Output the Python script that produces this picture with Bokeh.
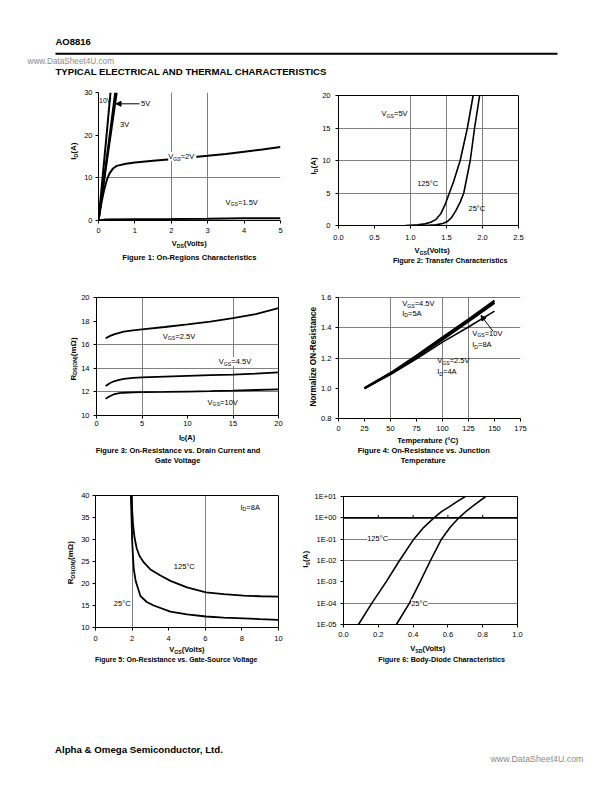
import math
from bokeh.plotting import figure
from bokeh.models import (Range1d, FixedTicker, Label, Arrow, NormalHead, Span,
                          NumeralTickFormatter, CustomJSTickFormatter)
from bokeh.layouts import column, row
from bokeh.embed import file_html
from bokeh.resources import INLINE

FONT = "Liberation Sans"

# ---------------- data ----------------
# Figure 1: On-region characteristics (VDS, ID)
f1_x_10v = [0, 0.1, 0.2, 0.33]
f1_y_10v = [0, 9, 18, 30]
f1_x_5v = [0, 0.1, 0.2, 0.3, 0.46]
f1_y_5v = [0, 6.5, 13, 19.5, 30]
f1_x_3v = [0, 0.1, 0.2, 0.3, 0.4, 0.5]
f1_y_3v = [0, 6.1, 12.1, 18.1, 24.0, 30]
f1_x_2v = [0, 0.05, 0.1, 0.15, 0.2, 0.25, 0.3, 0.4, 0.5, 0.75, 1, 1.5, 2, 2.5, 3, 3.5, 4, 4.5, 5]
f1_y_2v = [0, 2.6, 5.0, 7.0, 8.6, 10.0, 11.0, 12.2, 12.8, 13.3, 13.6, 14.0, 14.35, 14.75, 15.15, 15.6, 16.1, 16.65, 17.25]
f1_x_15v = [0, 0.2, 1, 2, 3, 4, 5]
f1_y_15v = [0, 0.25, 0.3, 0.35, 0.42, 0.5, 0.55]
f1_xticks = [0, 1, 2, 3, 4, 5]
f1_yticks = [0, 10, 20, 30]

# Figure 2: Transfer characteristics (VGS, ID)
f2_x_125 = [0.93, 1.1, 1.2, 1.28, 1.35, 1.42, 1.48, 1.54, 1.6, 1.69, 1.79, 1.87]
f2_y_125 = [0, 0.1, 0.25, 0.5, 0.9, 1.8, 3.2, 5, 6.8, 10, 15, 20]
f2_x_25 = [1.2, 1.35, 1.45, 1.51, 1.57, 1.63, 1.69, 1.74, 1.83, 1.89, 1.96]
f2_y_25 = [0, 0.1, 0.3, 0.6, 1.2, 2.3, 3.6, 5, 10, 15, 20]
f2_xticks = [0, 0.5, 1.0, 1.5, 2.0, 2.5]
f2_yticks = [0, 5, 10, 15, 20]

# Figure 3: RDS(ON) vs ID
f3_x = [1, 1.5, 2, 2.5, 3, 4, 5, 7.5, 10, 12.5, 15, 17.5, 20]
f3_y_25v = [16.55, 16.75, 16.9, 17.0, 17.1, 17.22, 17.3, 17.5, 17.72, 17.95, 18.25, 18.6, 19.1]
f3_y_45v = [12.5, 12.75, 12.92, 13.02, 13.1, 13.18, 13.23, 13.3, 13.36, 13.42, 13.47, 13.55, 13.65]
f3_y_10v = [11.42, 11.65, 11.82, 11.9, 11.93, 11.96, 11.98, 12.0, 12.03, 12.06, 12.1, 12.16, 12.22]
f3_xticks = [0, 5, 10, 15, 20]
f3_yticks = [10, 12, 14, 16, 18, 20]

# Figure 4: normalized on-resistance vs temperature
f4_x = [25, 50, 75, 100, 125, 150]
f4_y_45v = [1.0, 1.1, 1.215, 1.335, 1.455, 1.578]
f4_y_10v = [1.0, 1.098, 1.207, 1.322, 1.443, 1.565]
f4_y_25v = [1.0, 1.09, 1.195, 1.305, 1.405, 1.51]
f4_xticks = [0, 25, 50, 75, 100, 125, 150, 175]
f4_yticks = [0.8, 1.0, 1.2, 1.4, 1.6]

# Figure 5: RDS(ON) vs VGS
f5_x_125 = [1.98, 2.0, 2.05, 2.13, 2.25, 2.4, 2.64, 3.0, 3.55, 4.09, 5, 6.04, 7, 8.09, 9, 10]
f5_y_125 = [40, 37, 33.5, 30.5, 28, 26.3, 24.8, 23.2, 21.8, 20.6, 19.1, 18.0, 17.6, 17.25, 17.1, 17.0]
f5_x_25 = [1.93, 1.97, 2.0, 2.05, 2.09, 2.2, 2.45, 2.8, 3.18, 4.09, 5, 6.04, 7, 8.09, 9, 10]
f5_y_25 = [40, 35, 30, 26, 23.3, 20.5, 17.2, 15.8, 15.0, 13.6, 13.0, 12.5, 12.25, 12.06, 11.9, 11.75]
f5_xticks = [0, 2, 4, 6, 8, 10]
f5_yticks = [10, 15, 20, 25, 30, 35, 40]

# Figure 6: body diode (VSD, IS)
f6_x_125 = [0.086, 0.163, 0.245, 0.322, 0.404, 0.46, 0.52, 0.565, 0.605, 0.65, 0.70]
f6_y_125 = [1e-5, 1e-4, 1e-3, 1e-2, 1e-1, 0.35, 1, 2, 3.2, 5.6, 10]
f6_x_25 = [0.304, 0.379, 0.44, 0.5, 0.563, 0.612, 0.663, 0.71, 0.76, 0.817]
f6_y_25 = [1e-5, 1e-4, 1e-3, 1e-2, 1e-1, 0.35, 1, 2.2, 4.5, 10]
f6_xticks = [0, 0.2, 0.4, 0.6, 0.8, 1.0]
f6_yticks = [1e-5, 1e-4, 1e-3, 1e-2, 1e-1, 1, 10]
f6_midticks = [0.2, 0.4, 0.6, 0.8]

# ---------------- layout geometry (page px, origin top-left of page) ----------------
# L,T,R,B = plot frame; fx,fy,fw,fh = chart canvas; cell = (x0, y0, x1, y1)
CH = {
    1: dict(L=98, T=92, R=280, B=220, fx=80, fy=88, fw=220, fh=150, cell=(0, 88, 300, 272), xr=(0, 5), yr=(0, 30)),
    2: dict(L=338, T=95, R=518, B=225, fx=318, fy=88, fw=294, fh=157, cell=(300, 88, 612, 272), xr=(0, 2.5), yr=(0, 20)),
    3: dict(L=95, T=297, R=278, B=415, fx=78, fy=272, fw=222, fh=159, cell=(0, 272, 300, 476), xr=(0, 20), yr=(10, 20)),
    4: dict(L=338, T=297, R=520, B=418, fx=318, fy=272, fw=294, fh=163, cell=(300, 272, 612, 476), xr=(0, 175), yr=(0.8, 1.6)),
    5: dict(L=95, T=495, R=278, B=627, fx=78, fy=476, fw=222, fh=168, cell=(0, 476, 300, 672), xr=(0, 10), yr=(10, 40)),
    6: dict(L=343, T=496, R=517, B=624, fx=310, fy=476, fw=302, fh=167, cell=(300, 476, 612, 672), xr=(0, 1), yr=(1e-5, 10), log=True),
}

REG = {' ': 278, '(': 333, ')': 333, '=': 584, '-': 333, '.': 278, ':': 278, ',': 278,
       '\u00b0': 400, '\u03a9': 768, '&': 667,
       'A': 667, 'B': 667, 'C': 722, 'D': 722, 'E': 667, 'F': 611, 'G': 778, 'H': 722, 'I': 278,
       'J': 500, 'L': 556, 'M': 833, 'N': 722, 'O': 778, 'P': 667, 'R': 722, 'S': 667, 'T': 611,
       'U': 722, 'V': 667, 'W': 944, 'Y': 667,
       'a': 556, 'b': 556, 'c': 500, 'd': 556, 'e': 556, 'f': 278, 'g': 556, 'h': 556, 'i': 222,
       'k': 500, 'l': 222, 'm': 833, 'n': 556, 'o': 556, 'p': 556, 'r': 333, 's': 500, 't': 278,
       'u': 556, 'v': 500, 'w': 722, 'y': 500, 'z': 500}
BOLD = dict(REG)
BOLD.update({':': 333, 'A': 722, 'c': 556, 'd': 611, 'g': 611, 'h': 611, 'i': 278, 'l': 278,
             'm': 889, 'n': 611, 'o': 611, 'p': 611, 'r': 389, 's': 556, 't': 333, 'u': 611,
             'v': 556, 'y': 556, 'f': 333, 'k': 556, 'w': 778, 'b': 611})


def tw(s, size, bold):
    t = BOLD if bold else REG
    return sum(t.get(ch, 556) for ch in s) / 1000.0 * size


def to_data(c, px, py):
    x0, x1 = c["xr"]
    y0, y1 = c["yr"]
    x = x0 + (px - c["L"]) / (c["R"] - c["L"]) * (x1 - x0)
    f = (c["B"] - py) / (c["B"] - c["T"])
    if c.get("log"):
        y = 10 ** (math.log10(y0) + f * (math.log10(y1) - math.log10(y0)))
    else:
        y = y0 + f * (y1 - y0)
    return x, y


def rich(p, c, px, py, segs, align="left", vertical=False, bg=None, color="black"):
    widths = [tw(t, s, b) for t, s, b, _ in segs]
    total = sum(widths)
    d = 0.0 if align == "left" else -total / 2.0
    ax, ay = to_data(c, px, py)
    for (t, s, b, sh), w in zip(segs, widths):
        if vertical:
            xo, yo = sh, d
        else:
            xo, yo = d, -sh
        lab = Label(x=ax, y=ay, x_offset=xo, y_offset=yo, text=t, text_font=FONT,
                    text_font_size=f"{s}px", text_font_style="bold" if b else "normal",
                    text_align="left", text_baseline="middle",
                    angle=math.pi / 2 if vertical else 0, text_color=color)
        if bg:
            lab.background_fill_color = bg
        p.add_layout(lab)
        d += w


def sub(main, subtxt, rest, size=7.5, bold=False, ssize=5.2, shift=2):
    return [(main, size, bold, 0), (subtxt, ssize, bold, shift), (rest, size, bold, 0)]


def txt(s, size=7.5, bold=False):
    return [(s, size, bold, 0)]


def blank(x0, y0, x1, y1):
    spec = dict(L=x0, T=y0, R=x1, B=y1, xr=(x0, x1), yr=(y1, y0))
    p = figure(width=x1 - x0, height=y1 - y0, x_range=Range1d(x0, x1),
               y_range=Range1d(y1, y0), output_backend="svg", toolbar_location=None,
               min_border=0, x_axis_location=None, y_axis_location=None)
    p.outline_line_color = None
    p.grid.visible = False
    p.background_fill_color = "white"
    p.border_fill_color = "white"
    return p, spec


def make_chart(c, xt, yt, xfmt=None, yfmt=None, xgrid=(), ygrid=(), outline=True, xst=4, yst=4):
    p = figure(width=c["fw"], height=c["fh"], x_range=Range1d(*c["xr"]), y_range=Range1d(*c["yr"]),
               y_axis_type="log" if c.get("log") else "linear",
               output_backend="svg", toolbar_location=None,
               min_border_left=c["L"] - c["fx"], min_border_right=c["fx"] + c["fw"] - c["R"],
               min_border_top=c["T"] - c["fy"], min_border_bottom=c["fy"] + c["fh"] - c["B"])
    p.outline_line_color = "black" if outline else None
    p.background_fill_color = "white"
    p.border_fill_color = "white"
    for ax, ticks, fmt, st in ((p.xaxis[0], xt, xfmt, xst), (p.yaxis[0], yt, yfmt, yst)):
        ax.ticker = FixedTicker(ticks=ticks)
        if fmt is not None:
            ax.formatter = fmt
        ax.major_label_text_font = FONT
        ax.major_label_text_font_size = "7.5px"
        ax.major_label_text_color = "black"
        ax.major_label_standoff = st
        ax.axis_line_color = "black"
        ax.major_tick_line_color = "black"
        ax.major_tick_in = 0
        ax.major_tick_out = 3
        ax.minor_tick_line_color = None
    p.xgrid[0].ticker = FixedTicker(ticks=list(xgrid))
    p.ygrid[0].ticker = FixedTicker(ticks=list(ygrid))
    for g in (p.xgrid[0], p.ygrid[0]):
        g.grid_line_color = "#808080"
        g.grid_line_width = 1
    cx0, cy0, cx1, cy1 = c["cell"]
    left = blank(cx0, c["fy"], c["fx"], c["fy"] + c["fh"])
    bottom = blank(cx0, c["fy"] + c["fh"], cx1, cy1)
    cell = column(row(left[0], p), bottom[0])
    return p, left, bottom, cell


def arrow(p, c, a, b):
    xs, ys = to_data(c, *a)
    xe, ye = to_data(c, *b)
    p.add_layout(Arrow(end=NormalHead(size=5, fill_color="black", line_color="black"),
                       x_start=xs, y_start=ys, x_end=xe, y_end=ye,
                       line_color="black", line_width=1))


# ---------------- Figure 1 ----------------
c1 = CH[1]
p1, l1, b1, cell1 = make_chart(c1, f1_xticks, f1_yticks, xgrid=[2, 3], ygrid=[10], outline=False, xst=4, yst=3)
for xs, ys in ((f1_x_10v, f1_y_10v), (f1_x_5v, f1_y_5v), (f1_x_3v, f1_y_3v),
               (f1_x_2v, f1_y_2v), (f1_x_15v, f1_y_15v)):
    p1.line(xs, ys, line_color="black", line_width=2)
rich(p1, c1, 98.6, 100, txt("10V", 6.8))
rich(p1, c1, 140.5, 103, txt("5V"))
arrow(p1, c1, (139, 103.3), (115.5, 103.3))
rich(p1, c1, 119.5, 124.3, txt("3V"))
rich(p1, c1, 167.7, 156, sub("V", "GS", " =2V"), bg="white")
rich(p1, c1, 225, 201.7, sub("V", "GS", " =1.5V"))
rich(b1[0], b1[1], 189, 243.3, sub("V", "DS", "(Volts)", bold=True), align="center")
rich(l1[0], l1[1], 73, 156.7, sub("I", "D", "(A)", size=8, bold=True), align="center", vertical=True)
rich(b1[0], b1[1], 189, 256.7, txt("Figure 1: On-Regions Characteristics", 7.6, True), align="center")

# ---------------- Figure 2 ----------------
c2 = CH[2]
p2, l2, b2, cell2 = make_chart(c2, f2_xticks, f2_yticks, xfmt=NumeralTickFormatter(format="0.0"),
                               xgrid=[1.0, 1.5, 2.0], ygrid=[5, 10, 15], xst=6, yst=5)
p2.line(f2_x_125, f2_y_125, line_color="black", line_width=1.6)
p2.line(f2_x_25, f2_y_25, line_color="black", line_width=1.6)
rich(p2, c2, 381, 113, sub("V", "GS", "=5V"))
rich(p2, c2, 416.7, 182.7, txt("125\u00b0C"))
rich(p2, c2, 468, 208, txt("25\u00b0C"))
rich(b2[0], b2[1], 432, 250, sub("V", "GS", "(Volts)", bold=True), align="center")
rich(l2[0], l2[1], 313, 173, sub("I", "D", "(A)", size=8, bold=True), align="center", vertical=True)
rich(b2[0], b2[1], 450, 260, txt("Figure 2: Transfer Characteristics", 7.2, True), align="center")

# ---------------- Figure 3 ----------------
c3 = CH[3]
p3, l3, b3, cell3 = make_chart(c3, f3_xticks, f3_yticks, xgrid=[5, 15], ygrid=[12, 14, 16], xst=2, yst=4)
for ys in (f3_y_25v, f3_y_45v, f3_y_10v):
    p3.line(f3_x, ys, line_color="black", line_width=1.8)
rich(p3, c3, 161.7, 335.7, sub("V", "GS", " =2.5V"))
rich(p3, c3, 218, 361, sub("V", "GS", " =4.5V"), bg="white")
rich(p3, c3, 206.7, 401.7, sub("V", "GS", " =10V"))
rich(b3[0], b3[1], 186.5, 436.7, sub("I", "D", "(A)", bold=True), align="center")
rich(l3[0], l3[1], 72.7, 355, sub("R", "DS(ON)", "(m\u03a9)", size=8, bold=True), align="center", vertical=True)
rich(b3[0], b3[1], 177.5, 450, txt("Figure 3: On-Resistance vs. Drain Current and", 7.5, True), align="center")
rich(b3[0], b3[1], 177.5, 459.5, txt("Gate Voltage", 7.5, True), align="center")

# ---------------- Figure 4 ----------------
c4 = CH[4]
p4, l4, b4, cell4 = make_chart(c4, f4_xticks, f4_yticks, yfmt=NumeralTickFormatter(format="0.0"),
                               xgrid=[50, 100, 125], ygrid=[1.2, 1.4], outline=False, xst=4, yst=4)
p4.add_layout(Span(location=c4["yr"][1], dimension="width", line_color="black", line_width=1))
p4.line(f4_x, f4_y_45v, line_color="black", line_width=2.4)
p4.line(f4_x, f4_y_10v, line_color="black", line_width=2.4)
p4.line(f4_x, f4_y_25v, line_color="black", line_width=1.5)
rich(p4, c4, 401.7, 303.3, sub("V", "GS", "=4.5V"))
rich(p4, c4, 401.7, 312.7, sub("I", "D", "=5A"))
rich(p4, c4, 471.7, 332.7, sub("V", "GS", "=10V"))
rich(p4, c4, 471.7, 344.3, sub("I", "D", "=8A"))
arrow(p4, c4, (492.7, 331), (480.5, 315))
rich(p4, c4, 436.7, 360, sub("V", "GS", "=2.5V"))
rich(p4, c4, 436.7, 371, sub("I", "D", "=4A"))
rich(b4[0], b4[1], 427.5, 440, txt("Temperature (\u00b0C)", 7.6, True), align="center")
rich(l4[0], l4[1], 313, 351.7, txt("Normalize ON-Resistance", 8.2, True), align="center", vertical=True)
rich(b4[0], b4[1], 423, 450, txt("Figure 4: On-Resistance vs. Junction", 7.5, True), align="center")
rich(b4[0], b4[1], 423, 459.5, txt("Temperature", 7.5, True), align="center")

# ---------------- Figure 5 ----------------
c5 = CH[5]
p5, l5, b5, cell5 = make_chart(c5, f5_xticks, f5_yticks, xgrid=[2, 6], ygrid=[], xst=5, yst=3)
p5.line(f5_x_125, f5_y_125, line_color="black", line_width=1.8)
p5.line(f5_x_25, f5_y_25, line_color="black", line_width=1.8)
rich(p5, c5, 240, 506.7, sub("I", "D", "=8A"))
rich(p5, c5, 173.3, 566, txt("125\u00b0C"))
rich(p5, c5, 113.3, 602.7, txt("25\u00b0C"))
rich(b5[0], b5[1], 186.7, 649, sub("V", "GS", "(Volts)", bold=True), align="center")
rich(l5[0], l5[1], 70, 561.7, sub("R", "DS(ON)", "(m\u03a9)", size=8, bold=True), align="center", vertical=True)
rich(b5[0], b5[1], 176, 659, txt("Figure 5: On-Resistance vs. Gate-Source Voltage", 7.0, True), align="center")

# ---------------- Figure 6 ----------------
c6 = CH[6]
exp_fmt = CustomJSTickFormatter(code="""
const e = Math.round(Math.log10(tick));
return '1E' + (e < 0 ? '-' : '+') + String(Math.abs(e)).padStart(2, '0');
""")
p6, l6, b6, cell6 = make_chart(c6, f6_xticks, f6_yticks, xfmt=NumeralTickFormatter(format="0.0"), yfmt=exp_fmt,
                               xgrid=[], ygrid=[1e-4, 1e-2, 1e-1], xst=4, yst=4)
p6.add_layout(Span(location=1, dimension="width", line_color="black", line_width=1.6))
one_py = c6["B"] - (0 - math.log10(c6["yr"][0])) / (math.log10(c6["yr"][1]) - math.log10(c6["yr"][0])) * (c6["B"] - c6["T"])
tick_top = to_data(c6, c6["L"], one_py - 3)[1]
p6.segment(x0=f6_midticks, y0=[1] * len(f6_midticks), x1=f6_midticks,
           y1=[tick_top] * len(f6_midticks), line_color="black", line_width=1)
p6.line(f6_x_125, f6_y_125, line_color="black", line_width=1.6)
p6.line(f6_x_25, f6_y_25, line_color="black", line_width=1.6)
rich(p6, c6, 366.7, 537.7, txt("125\u00b0C"), bg="white")
rich(p6, c6, 410.7, 603.3, txt("25\u00b0C"), bg="white")
rich(b6[0], b6[1], 427.5, 648.3, sub("V", "SD", "(Volts)", bold=True), align="center")
rich(l6[0], l6[1], 305, 558, sub("I", "S", "(A)", size=8, bold=True), align="center", vertical=True)
rich(b6[0], b6[1], 441, 659, txt("Figure 6: Body-Diode Characteristics", 7.2, True), align="center")

# ---------------- header / footer ----------------
ph, hs = blank(0, 0, 612, 88)
rich(ph, hs, 55, 41, txt("AO8816", 9.5, True))
ph.segment(x0=[55], y0=[53.3], x1=[557], y1=[53.3], line_color="black", line_width=2)
rich(ph, hs, 27, 60.7, txt("www.DataSheet4U.com", 8.2), color="#8a8a8a")
rich(ph, hs, 55, 71, txt("TYPICAL ELECTRICAL AND THERMAL CHARACTERISTICS", 9.6, True))

pf, fs = blank(0, 672, 612, 780)
rich(pf, fs, 54.5, 748.5, txt("Alpha & Omega Semiconductor, Ltd.", 9.7, True))
rich(pf, fs, 490, 758, txt("www.DataSheet4U.com", 8.8), color="#8a8a8a")

layout = column(ph, row(cell1, cell2), row(cell3, cell4), row(cell5, cell6), pf)
open("out.html", "w").write(file_html(layout, INLINE))
